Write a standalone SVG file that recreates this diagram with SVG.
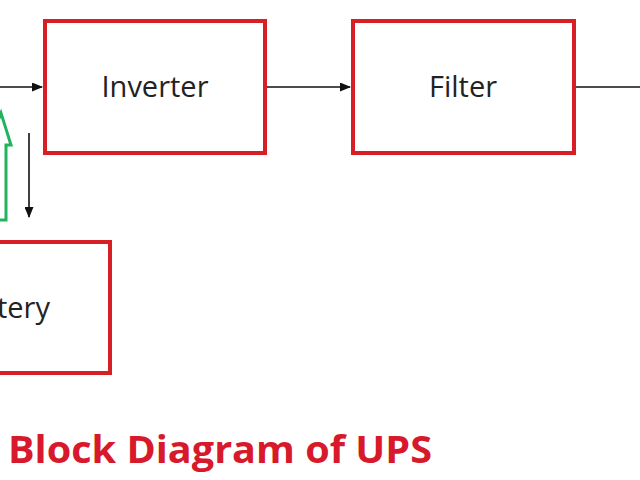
<svg xmlns="http://www.w3.org/2000/svg" width="640" height="480" viewBox="0 0 640 480">
<style>
.box{fill:#fff;stroke:#d91f26;stroke-width:4}
.lbl{font-family:"Open Sans","Liberation Sans",sans-serif;font-size:29px;fill:#222}
.wire{stroke:#111;stroke-width:1.6;fill:none}
</style>
<defs>
<marker id="ah" markerWidth="11" markerHeight="9" refX="10" refY="4.5" orient="auto" markerUnits="userSpaceOnUse">
<path d="M0,0 L11,4.5 L0,9 Z" fill="#111"/>
</marker>
</defs>
<rect width="640" height="480" fill="#fff"/>
<g id="connectors">
<line class="wire" x1="0" y1="87" x2="42" y2="87" marker-end="url(#ah)"/>
<line class="wire" x1="266" y1="87" x2="350" y2="87" marker-end="url(#ah)"/>
<line class="wire" x1="576" y1="87" x2="640" y2="87"/>
<line class="wire" x1="29" y1="133" x2="29" y2="217" marker-end="url(#ah)"/>
<polygon points="-8,220 6,220 6,145 11,145 1,113 -11,145 -8,145" fill="none" stroke="#22b35c" stroke-width="3"/>
</g>
<g id="inverter">
<rect class="box" x="45" y="21" width="220" height="132"/>
<text class="lbl" x="155" y="97" text-anchor="middle">Inverter</text>
</g>
<g id="filter">
<rect class="box" x="353" y="21" width="221" height="132"/>
<text class="lbl" x="463" y="97" text-anchor="middle">Filter</text>
</g>
<g id="battery">
<rect class="box" x="-110" y="242" width="220" height="131"/>
<text class="lbl" x="50" y="318" text-anchor="end">Battery</text>
</g>
<text x="8" y="463" font-family="'Open Sans','Liberation Sans',sans-serif" font-weight="bold" font-size="38" fill="#d7192b" textLength="424" lengthAdjust="spacingAndGlyphs">Block Diagram of UPS</text>
</svg>
